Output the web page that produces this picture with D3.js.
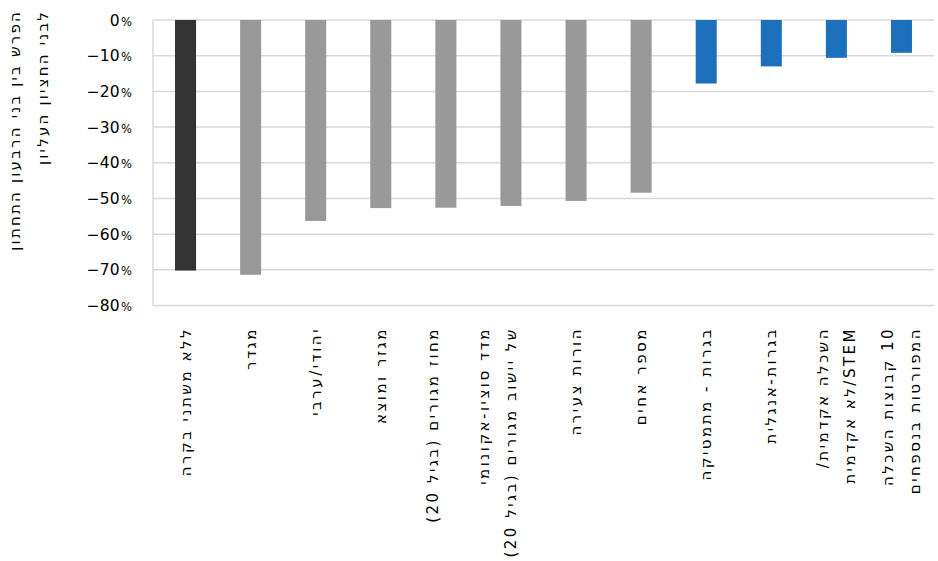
<!DOCTYPE html>
<html><head><meta charset="utf-8">
<script src="https://cdn.jsdelivr.net/npm/d3@7"></script>
<style>
html,body{margin:0;padding:0;background:#fff;}
svg{display:block;}
</style></head>
<body>
<svg id="chart" width="938" height="561"></svg>
<script>
// ---- data ----
const categories = [
  ["ללא משתני בקרה"],
  ["מגדר"],
  ["יהודי/ערבי"],
  ["מגזר ומוצא"],
  ["מחוז מגורים (בגיל 20)", ""],
  ["מדד סוציו-אקונומי", "של יישוב מגורים (בגיל 20)", ""],
  ["הורות צעירה"],
  ["מספר אחים"],
  ["בגרות - מתמטיקה"],
  ["בגרות-אנגלית"],
  ["השכלה אקדמית/", "STEM/לא אקדמית"],
  ["10 קבוצות השכלה", "המפורטות בנספחים"]
];
const values = [-0.702, -0.714, -0.563, -0.527, -0.526, -0.521, -0.507, -0.484, -0.178, -0.130, -0.106, -0.092];
const groups = ["base","ctrl","ctrl","ctrl","ctrl","ctrl","ctrl","ctrl","edu","edu","edu","edu"];
const yTicks = [0, -0.1, -0.2, -0.3, -0.4, -0.5, -0.6, -0.7, -0.8];
const yTitle = ["הפרש בין בני הרבעון התחתון", "לבני החציון העליון"];

// ---- styles ----
const colorMap = {base: "#333333", ctrl: "#999999", edu: "#1c70bb"};
const svg = d3.select("#chart");
const pLeft = 153, pRight = 934, pTop = 20, pBottom = 305.5;

const x = d3.scaleBand().domain(d3.range(categories.length)).range([pLeft, pRight])
  .paddingInner(0.677).paddingOuter(0.3385);
const y = d3.scaleLinear().domain([-0.8, 0]).range([pBottom, pTop]);

// gridlines
svg.append("g").selectAll("line").data(yTicks).join("line")
  .attr("x1", pLeft).attr("x2", pRight)
  .attr("y1", d => y(d)).attr("y2", d => y(d))
  .attr("stroke", "#d9d9d9").attr("stroke-width", 1.5);
// left axis line
svg.append("line").attr("x1", pLeft).attr("x2", pLeft).attr("y1", y(0)).attr("y2", y(-0.8))
  .attr("stroke", "#d9d9d9").attr("stroke-width", 1.5);

// bars
svg.append("g").selectAll("rect").data(values).join("rect")
  .attr("x", (d, i) => x(i))
  .attr("width", x.bandwidth())
  .attr("y", d => y(0))
  .attr("height", d => y(d) - y(0))
  .attr("fill", (d, i) => colorMap[groups[i]]);

// y tick labels
const fmt = d3.format(".0%");
const yt = svg.append("g").selectAll("text").data(yTicks).join("text")
  .attr("x", 132).attr("y", d => y(d))
  .attr("dy", "0.36em")
  .attr("text-anchor", "end")
  .attr("font-family", "DejaVu Sans")
  .attr("font-size", 15.5)
  .attr("fill", "#000");
yt.each(function(d) {
  const s = fmt(d).replace("%", "").replace("-", "−");
  const t = d3.select(this);
  t.append("tspan").text(s);
  t.append("tspan").attr("font-size", 11.5).attr("dx", 1.5).text("%");
});

// category labels (rotated -90)
const lineH = 26.5;
categories.forEach((lines, i) => {
  const cx = x(i) + x.bandwidth() / 2;
  const n = lines.length;
  lines.forEach((ln, j) => {
    if (!ln) return;
    const lx = cx + (j - (n - 1) / 2) * lineH;
    svg.append("text")
      .attr("transform", `translate(${lx},327) rotate(-90)`)
      .attr("direction", "rtl")
      .attr("text-anchor", "start")
      .attr("dominant-baseline", "central")
      .attr("font-family", "DejaVu Sans")
      .attr("font-size", 15)
      .attr("letter-spacing", 2.5)
      .attr("fill", "#000")
      .text(ln);
  });
});

// y axis title
yTitle.forEach((ln, j) => {
  svg.append("text")
    .attr("transform", `translate(${15 + j * 28},10) rotate(-90)`)
    .attr("direction", "rtl")
    .attr("text-anchor", "start")
    .attr("dominant-baseline", "central")
    .attr("font-family", "DejaVu Sans")
    .attr("font-size", 15)
    .attr("letter-spacing", 2.2)
    .attr("fill", "#000")
    .text(ln);
});
</script>
</body></html>
